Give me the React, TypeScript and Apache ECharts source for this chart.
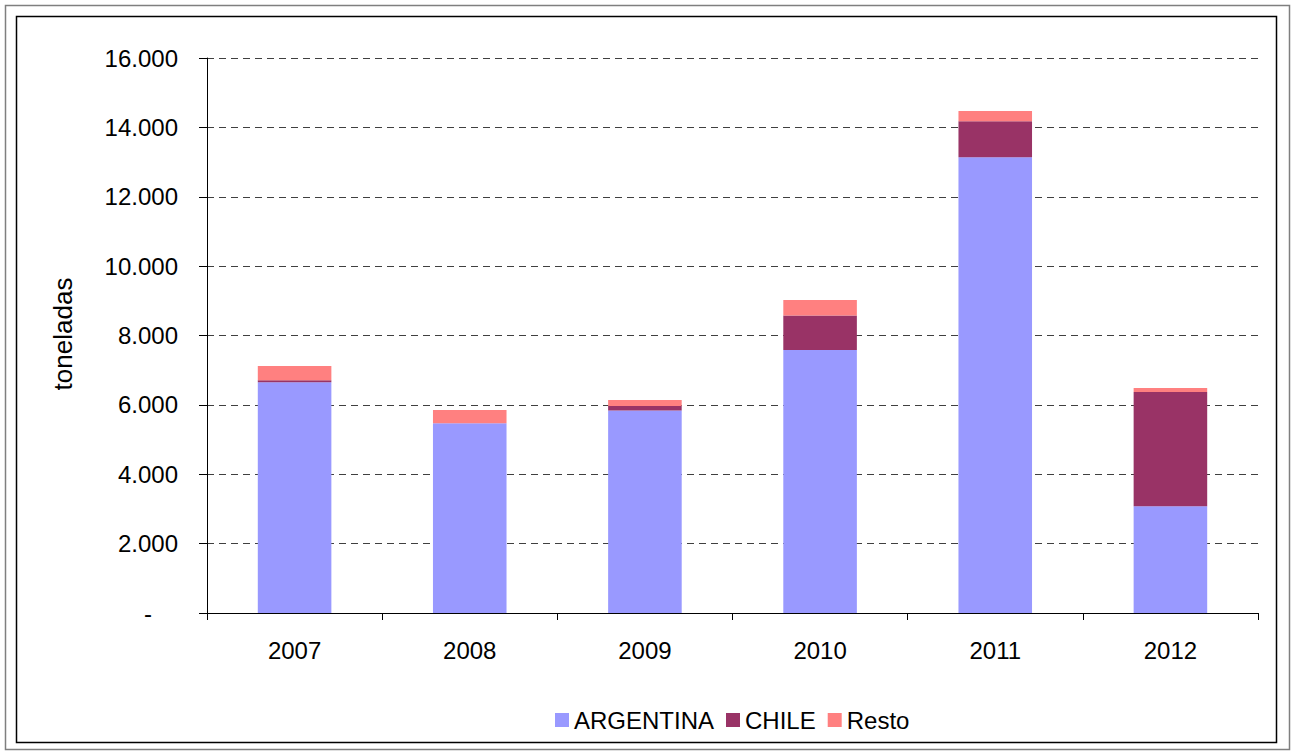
import React, { useEffect, useRef } from "react";
import * as echarts from "echarts";

const categories = ["2007", "2008", "2009", "2010", "2011", "2012"];
const argentina = [6650, 5470, 5840, 7580, 13140, 3080];
const chile = [60, 0, 125, 1000, 1040, 3290];
const resto = [410, 380, 175, 440, 290, 115];
const yTicks = [0, 2000, 4000, 6000, 8000, 10000, 12000, 14000, 16000];

const FONT = "Liberation Sans, Arial, sans-serif";

function fmt(v: number): string {
  if (v === 0) return "{z|-}";
  const s = String(Math.round(v));
  return s.replace(/\B(?=(\d{3})+(?!\d))/g, ".");
}

export default function App() {
  const ref = useRef<HTMLDivElement>(null);
  useEffect(() => {
    document.body.style.margin = "0";
    const chart = echarts.init(ref.current!, undefined, { renderer: "svg" });
    const bar = (name: string, data: number[], color: string) => ({
      name,
      type: "bar",
      stack: "total",
      data,
      barCategoryGap: "58%",
      itemStyle: { color },
      emphasis: { disabled: true },
    });
    chart.setOption({
      animation: false,
      backgroundColor: "#ffffff",
      textStyle: { fontFamily: FONT },
      graphic: [
        {
          type: "rect",
          shape: { x: 5.5, y: 5.5, width: 1284, height: 744 },
          style: { fill: "none", stroke: "#7f7f7f", lineWidth: 1.5 },
          silent: true,
        },
        {
          type: "rect",
          shape: { x: 16.5, y: 16.5, width: 1260, height: 726 },
          style: { fill: "none", stroke: "#000000", lineWidth: 1.5 },
          silent: true,
        },
        {
          type: "text",
          x: 63,
          y: 334,
          rotation: Math.PI / 2,
          style: {
            text: "toneladas",
            fontSize: 26,
            fontFamily: FONT,
            fill: "#000",
            align: "center",
            verticalAlign: "middle",
          },
          silent: true,
        },
      ],
      grid: { left: 207, right: 33, top: 58, bottom: 138, containLabel: false },
      legend: {
        data: ["ARGENTINA", "CHILE", "Resto"],
        left: 550,
        top: 703,
        icon: "rect",
        itemWidth: 14,
        itemHeight: 14,
        itemGap: 12,
        textStyle: { fontSize: 24, fontFamily: FONT, color: "#000" },
      },
      xAxis: {
        type: "category",
        data: categories,
        axisLine: { lineStyle: { color: "#000", width: 1 } },
        axisTick: { show: true, length: 7, alignWithLabel: false, lineStyle: { color: "#000" } },
        axisLabel: { fontSize: 24, color: "#000", margin: 25, fontFamily: FONT },
        splitLine: { show: false },
      },
      yAxis: {
        type: "value",
        min: yTicks[0],
        max: yTicks[yTicks.length - 1],
        interval: yTicks[1] - yTicks[0],
        axisLine: { show: true, lineStyle: { color: "#000", width: 1 } },
        axisTick: { show: true, length: 8, lineStyle: { color: "#000" } },
        axisLabel: {
          fontSize: 24,
          color: "#000",
          margin: 29,
          fontFamily: FONT,
          formatter: (v: number) => fmt(v),
          rich: {
            z: { fontSize: 24, fontFamily: FONT, color: "#000", padding: [0, 26, 0, 0] },
          },
        },
        splitLine: { show: true, lineStyle: { color: "#404040", type: [7, 5], width: 1 } },
      },
      series: [
        bar("ARGENTINA", argentina, "#9999FF"),
        bar("CHILE", chile, "#993366"),
        bar("Resto", resto, "#FF8080"),
      ],
    });
    return () => chart.dispose();
  }, []);
  return (
    <div
      ref={ref}
      style={{ position: "absolute", left: 0, top: 0, width: 1291, height: 751 }}
    />
  );
}
